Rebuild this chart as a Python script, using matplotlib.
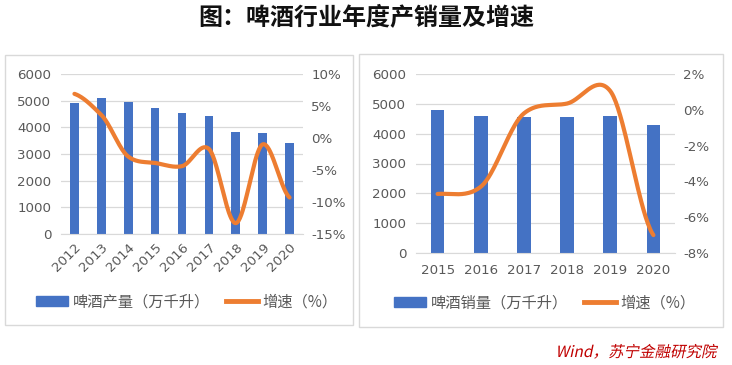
import numpy as np
import matplotlib
matplotlib.use("Agg")
import matplotlib.pyplot as plt
from matplotlib.patches import Rectangle, Patch, PathPatch
from matplotlib.lines import Line2D
from matplotlib.textpath import TextPath
from matplotlib.font_manager import FontProperties
from matplotlib.transforms import Affine2D

plt.rcParams['font.family'] = ['Noto Sans CJK SC', 'DejaVu Sans']

# data
years_prod = ['2012', '2013', '2014', '2015', '2016', '2017', '2018', '2019', '2020']
prod = [4900, 5100, 4950, 4720, 4550, 4440, 3830, 3790, 3420]
prod_growth = [6.9, 3.6, -2.9, -3.9, -4.4, -1.7, -13.3, -1.0, -9.3]

years_sales = ['2015', '2016', '2017', '2018', '2019', '2020']
sales = [4800, 4590, 4560, 4560, 4590, 4290]
sales_growth = [-4.7, -4.3, -0.2, 0.35, 1.05, -7.0]

BLUE = '#4472C4'
ORANGE = '#ED7D31'
GRID = '#d9d9d9'
TXT = '#595959'
NUM = dict(family='DejaVu Sans', size=9.6)


def smooth(y, s=0.42, n=40):
    # smoothed line like Excel's, cubic Hermite through the points
    y = np.asarray(y, float)
    m = np.empty_like(y)
    m[1:-1] = s * (y[2:] - y[:-2])
    m[0] = s * (y[1] - y[0])
    m[-1] = s * (y[-1] - y[-2])
    t = np.linspace(0, 1, n)
    h00 = 2 * t ** 3 - 3 * t ** 2 + 1
    h10 = t ** 3 - 2 * t ** 2 + t
    h01 = -2 * t ** 3 + 3 * t ** 2
    h11 = t ** 3 - t ** 2
    xs, ys = [], []
    for i in range(len(y) - 1):
        xs.extend(i + t)
        ys.extend(h00 * y[i] + h10 * m[i] + h01 * y[i + 1] + h11 * m[i + 1])
    return np.array(xs), np.array(ys)


def panel(ax, cats, bars, growth, gticks, bar_label, rot):
    x = np.arange(len(cats))
    ax.bar(x, bars, width=0.32, color=BLUE, zorder=2)
    ax.set_ylim(0, 6000)
    ax.set_yticks(range(0, 6001, 1000))
    ax.set_xlim(-0.5, len(cats) - 0.5)
    ax.set_xticks(x)
    if rot:
        ax.set_xticklabels(cats, rotation=45, ha='right', rotation_mode='anchor', **NUM)
    else:
        ax.set_xticklabels(cats, **NUM)
    ax.set_yticklabels([str(v) for v in range(0, 6001, 1000)], **NUM)
    ax.grid(axis='y', color=GRID, lw=0.9, zorder=0)
    ax.set_axisbelow(True)
    for s in ax.spines.values():
        s.set_visible(False)
    ax.spines['bottom'].set_visible(True)
    ax.spines['bottom'].set_color(GRID)
    ax.tick_params(length=0, labelcolor=TXT)
    ax.tick_params(axis='y', pad=7)
    ax.tick_params(axis='x', pad=8 if not rot else 5)

    ax2 = ax.twinx()
    sx, sy = smooth(growth)
    ax2.plot(sx, sy, color=ORANGE, lw=3, solid_capstyle='round', zorder=3)
    ax2.set_ylim(gticks[0], gticks[-1])
    ax2.set_yticks(gticks)
    ax2.set_yticklabels([f'{v}%' for v in gticks], **NUM)
    for s in ax2.spines.values():
        s.set_visible(False)
    ax2.tick_params(length=0, labelcolor=TXT, pad=6)

    handles = [Patch(color=BLUE), Line2D([], [], color=ORANGE, lw=3.5)]
    labels = [bar_label, '增速（%）']
    return handles, labels


fig = plt.figure(figsize=(7.32, 3.65), dpi=100)
W, H = 732, 365


def box(x0, y0, x1, y1):
    return [x0 / W, 1 - y1 / H, (x1 - x0) / W, (y1 - y0) / H]


# panel frames
for x0, y0, x1, y1 in [(5, 55, 353, 325), (359, 54, 723, 327)]:
    fig.add_artist(Rectangle((x0 / W, 1 - y1 / H), (x1 - x0) / W, (y1 - y0) / H,
                             transform=fig.transFigure, fill=False,
                             edgecolor=GRID, lw=1))

leg_kw = dict(loc='center', ncol=2, frameon=False, fontsize=11, handlelength=2.1,
              handleheight=0.55, columnspacing=1.05, handletextpad=0.3, labelcolor=TXT)

axL = fig.add_axes(box(61, 74, 303, 234))
h, l = panel(axL, years_prod, prod, prod_growth, [-15, -10, -5, 0, 5, 10],
             '啤酒产量（万千升）', True)
fig.legend(h, l, bbox_to_anchor=(187 / W, 1 - 302 / H), **leg_kw)

axR = fig.add_axes(box(416, 74, 675, 253))
h, l = panel(axR, years_sales, sales, sales_growth, [-8, -6, -4, -2, 0, 2],
             '啤酒销量（万千升）', False)
fig.legend(h, l, bbox_to_anchor=(545 / W, 1 - 303 / H), **leg_kw)

fig.text(0.5, 1 - 17 / H, '图：啤酒行业年度产销量及增速', ha='center', va='center',
         fontsize=17.3, fontweight='bold', color='#111111')

# source note, slanted by hand since the CJK font has no italic
src = TextPath((0, 0), 'Wind，苏宁金融研究院', size=15.5,
               prop=FontProperties(family='Noto Sans CJK SC'))
wpx = src.get_extents().x1
fig.add_artist(PathPatch(src, lw=0, color='#C00000',
                         transform=Affine2D().skew_deg(12, 0).translate(716 - wpx, H - 357)))

fig.savefig('out.png', dpi=100)
